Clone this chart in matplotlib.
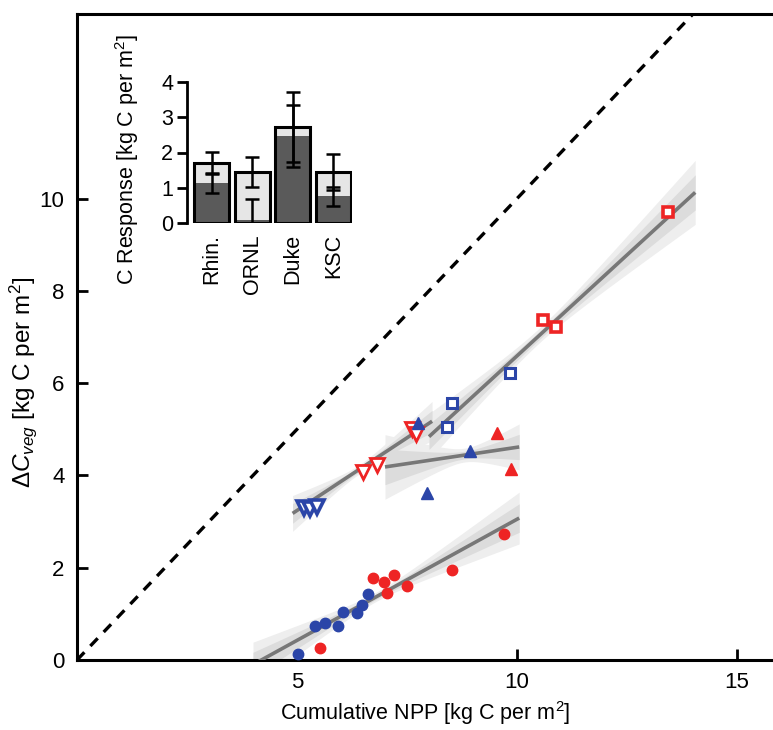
import numpy as np
import matplotlib
matplotlib.use("Agg")
import matplotlib.pyplot as plt

plt.rcParams['font.family'] = ['Liberation Sans', 'DejaVu Sans']
plt.rcParams['mathtext.fontset'] = 'custom'
plt.rcParams['mathtext.rm'] = 'Liberation Sans'
plt.rcParams['mathtext.it'] = 'Liberation Sans:italic'

RED = '#ee2424'
BLUE = '#2b45a8'

# ---- main data ----
sq_red_x = [13.43, 10.59, 10.89]
sq_red_y = [9.70, 7.36, 7.21]
sq_blue_x = [8.52, 8.41, 9.84]
sq_blue_y = [5.56, 5.04, 6.21]

tdn_red_x = [6.50, 6.82, 7.62, 7.70]
tdn_red_y = [4.07, 4.22, 5.00, 4.90]
tdn_blue_x = [5.15, 5.30, 5.45]
tdn_blue_y = [3.30, 3.28, 3.32]

tup_red_x = [9.55, 9.86]
tup_red_y = [4.93, 4.13]
tup_blue_x = [7.75, 7.95, 8.93]
tup_blue_y = [5.13, 3.61, 4.52]

ci_red_x = [5.52, 6.73, 6.98, 7.20, 7.05, 7.49, 8.52, 9.70]
ci_red_y = [0.25, 1.77, 1.68, 1.85, 1.46, 1.61, 1.96, 2.72]
ci_blue_x = [5.03, 5.41, 5.64, 5.93, 6.04, 6.37, 6.47, 6.61]
ci_blue_y = [0.13, 0.74, 0.81, 0.74, 1.05, 1.01, 1.19, 1.42]

# fitted lines: (x start, x end, intercept, slope)
fit_names = ['squares', 'down_tri', 'up_tri', 'circles']
fit_x0 = [8.0, 4.9, 7.0, 4.0]
fit_x1 = [14.05, 8.07, 10.05, 10.05]
fit_icpt = [-2.16, 0.09, 3.19, -2.20]
fit_slope = [0.875, 0.63, 0.142, 0.525]
# confidence band (outer): centre x, half width at centre, growth rate
band_xc = [10.5, 6.4, 8.8, 6.8]
band_h0 = [0.16, 0.10, 0.15, 0.10]
band_k = [0.19, 0.25, 0.38, 0.17]

# ---- inset data ----
sites = ['Rhin.', 'ORNL', 'Duke', 'KSC']
total_resp = [1.71, 1.44, 2.73, 1.44]
total_err = [0.31, 0.42, 0.99, 0.51]
veg_resp = [1.14, 0.08, 2.47, 0.76]
veg_err = [0.28, 0.61, 0.88, 0.27]

fig = plt.figure(figsize=(7.73, 7.30), dpi=100)
ax = fig.add_axes([77/773, 70/730, 1 - 77/773, (660 - 14)/730])
ax.set_xlim(0, (773 - 77)/44)
ax.set_ylim(0, 14)

# 1:1 line
ax.plot([0, 16], [0, 16], ls=(0, (3.2, 2.6)), color='black', lw=2.4, zorder=2)

for x0, x1, b, m, xc, h0, k in zip(fit_x0, fit_x1, fit_icpt, fit_slope, band_xc, band_h0, band_k):
    xs = np.linspace(x0, x1, 100)
    ys = b + m*xs
    hw = np.sqrt(h0**2 + (k*(xs - xc))**2)
    ax.fill_between(xs, ys - hw, ys + hw, color='#eeeeee', lw=0, zorder=1)
    ax.fill_between(xs, ys - 0.55*hw, ys + 0.55*hw, color='#dcdcdc', lw=0, zorder=1.1)
    ax.plot(xs, ys, color='#777777', lw=2.6, zorder=3, solid_capstyle='butt')

ax.plot(sq_red_x, sq_red_y, 's', ms=7.5, mfc='white', mec=RED, mew=2.6, ls='none', zorder=5)
ax.plot(sq_blue_x, sq_blue_y, 's', ms=7.5, mfc='white', mec=BLUE, mew=2.2, ls='none', zorder=5)
ax.plot(tdn_red_x, tdn_red_y, 'v', ms=10.5, mfc='white', mec=RED, mew=2.0, ls='none', zorder=5)
ax.plot(tdn_blue_x, tdn_blue_y, 'v', ms=10.5, mfc='white', mec=BLUE, mew=2.6, ls='none', zorder=5)
ax.plot(tup_red_x, tup_red_y, '^', ms=9, color=RED, ls='none', zorder=5)
ax.plot(tup_blue_x, tup_blue_y, '^', ms=9, color=BLUE, ls='none', zorder=5)
ax.plot(ci_red_x, ci_red_y, 'o', ms=7.5, color=RED, ls='none', zorder=5)
ax.plot(ci_blue_x, ci_blue_y, 'o', ms=7.5, color=BLUE, ls='none', zorder=5)

ax.set_xticks([5, 10, 15])
ax.set_yticks([0, 2, 4, 6, 8, 10])
ax.tick_params(direction='in', length=8, width=2, labelsize=16, pad=9)
for s in ['left', 'bottom', 'top']:
    ax.spines[s].set_linewidth(2.2)
ax.spines['right'].set_visible(False)
ax.set_xlabel('Cumulative NPP [kg C per m$^2$]', fontsize=15.5, labelpad=4)
ax.set_ylabel(r'$\mathit{\Delta C}_{\mathit{veg}}$ [kg C per m$^2$]', fontsize=17.5)
ax.yaxis.set_label_coords(-0.055, 0.43)

# ---- inset ----
ia = fig.add_axes([190/773, 1 - 223/730, 162/773, 141/730])
xpos = np.arange(len(sites))
ia.bar(xpos, total_resp, width=0.87, color='#e6e6e6', edgecolor='black', lw=2, zorder=1)
ia.bar(xpos, veg_resp, width=0.87, color='#5a5a5a', edgecolor='black', lw=0, zorder=2)
ia.bar(xpos, total_resp, width=0.87, color='none', edgecolor='black', lw=2.2, zorder=3)
ia.errorbar(xpos, total_resp, yerr=total_err, fmt='none', ecolor='black', elinewidth=1.8,
            capsize=5, capthick=1.8, zorder=4)
ia.errorbar(xpos, veg_resp, yerr=veg_err, fmt='none', ecolor='black', elinewidth=1.8,
            capsize=5, capthick=1.8, zorder=4)
ia.set_xlim(-0.54, 3.46)
ia.set_ylim(0, 4)
ia.set_yticks([0, 1, 2, 3, 4])
ia.set_xticks(xpos)
ia.set_xticklabels(sites, rotation=90, fontsize=15.5)
ia.tick_params(axis='y', direction='out', length=7, width=2, labelsize=15.5, pad=3)
ia.tick_params(axis='x', length=0, pad=8)
for s in ['right', 'top', 'bottom']:
    ia.spines[s].set_visible(False)
ia.spines['left'].set_linewidth(2)
ia.spines['left'].set_position(('outward', 2))
ia.set_ylabel('C Response [kg C per m$^2$]', fontsize=15.5)
ia.yaxis.set_label_coords(-0.30, 0.45)
ia.set_facecolor('none')

fig.savefig('out.png', dpi=100)
